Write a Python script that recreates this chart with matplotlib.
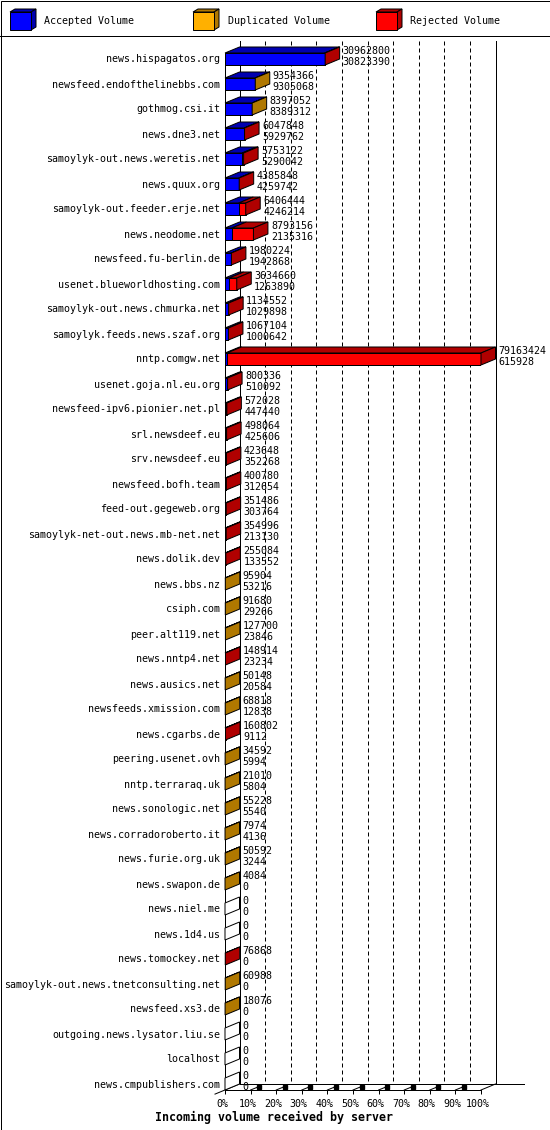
import matplotlib
matplotlib.use("Agg")
import matplotlib.pyplot as plt
from matplotlib.patches import Polygon, Rectangle
from matplotlib.transforms import ScaledTranslation

# ---------------- data ----------------
servers = [
    "news.hispagatos.org", "newsfeed.endofthelinebbs.com", "gothmog.csi.it",
    "news.dne3.net", "samoylyk-out.news.weretis.net", "news.quux.org",
    "samoylyk-out.feeder.erje.net", "news.neodome.net", "newsfeed.fu-berlin.de",
    "usenet.blueworldhosting.com", "samoylyk-out.news.chmurka.net",
    "samoylyk.feeds.news.szaf.org", "nntp.comgw.net", "usenet.goja.nl.eu.org",
    "newsfeed-ipv6.pionier.net.pl", "srl.newsdeef.eu", "srv.newsdeef.eu",
    "newsfeed.bofh.team", "feed-out.gegeweb.org", "samoylyk-net-out.news.mb-net.net",
    "news.dolik.dev", "news.bbs.nz", "csiph.com", "peer.alt119.net",
    "news.nntp4.net", "news.ausics.net", "newsfeeds.xmission.com", "news.cgarbs.de",
    "peering.usenet.ovh", "nntp.terraraq.uk", "news.sonologic.net",
    "news.corradoroberto.it", "news.furie.org.uk", "news.swapon.de", "news.niel.me",
    "news.1d4.us", "news.tomockey.net", "samoylyk-out.news.tnetconsulting.net",
    "newsfeed.xs3.de", "outgoing.news.lysator.liu.se", "localhost",
    "news.cmpublishers.com",
]
total = [
    30962800, 9354366, 8397052, 6047848, 5753122, 4385848, 6406444, 8793156,
    1980224, 3634660, 1134552, 1067104, 79163424, 800336, 572028, 498064,
    423648, 400780, 351486, 354996, 255084, 95904, 91680, 127700, 148914,
    50148, 68818, 160802, 34592, 21010, 55228, 7974, 50592, 4084, 0, 0,
    76868, 60988, 18076, 0, 0, 0,
]
accepted = [
    30823390, 9305068, 8389312, 5929762, 5290042, 4259742, 4246214, 2135316,
    1942868, 1263890, 1029898, 1000642, 615928, 510092, 447440, 425606,
    352268, 312654, 303764, 213130, 133552, 53216, 29266, 23846, 23234,
    20584, 12838, 9112, 5994, 5804, 5540, 4136, 3244, 0, 0, 0,
    0, 0, 0, 0, 0, 0,
]
duplicated = [
    0, 49298, 7740, 0, 0, 0, 0, 0,
    0, 0, 0, 0, 0, 0, 0, 0,
    0, 0, 0, 0, 0, 42688, 62414, 103854, 0,
    29564, 55980, 0, 28598, 15206, 49688, 3838, 47348, 4084, 0, 0,
    0, 60988, 18076, 0, 0, 0,
]
rejected = [
    139410, 0, 0, 118086, 463080, 126106, 2160230, 6657840,
    37356, 2370770, 104654, 66462, 78547496, 290244, 124588, 72458,
    71380, 88126, 47722, 141866, 121532, 0, 0, 0, 125680,
    0, 0, 151690, 0, 0, 0, 0, 0, 0, 0, 0,
    76868, 0, 0, 0, 0, 0,
]
legend_labels = ["Accepted Volume", "Duplicated Volume", "Rejected Volume"]
xticks = list(range(0, 101, 10))
xtick_labels = [f"{t}%" for t in xticks]
xtitle = "Incoming volume received by server"

# ---------------- style ----------------
FRONT = ["#0000FF", "#FFB000", "#FF0000"]
DARK = ["#0000B0", "#B07800", "#B00000"]
W, H, DPI = 550, 1130, 100
LW = 72.0 / DPI          # 1 pixel in points
FS = 7.2                 # ~6 px per monospace char
plt.rcParams["font.family"] = ["DejaVu Sans Mono", "DejaVu Sans"]

fig = plt.figure(figsize=(W / DPI, H / DPI), dpi=DPI)
fig.patch.set_facecolor("white")

# background / decoration axes in pixel coordinates
bg = fig.add_axes([0, 0, 1, 1], zorder=0)
bg.set_xlim(0, W)
bg.set_ylim(H, 0)
bg.axis("off")
bg.add_patch(Rectangle((0.5, 0.5), W - 1, H - 1, fill=False, ec="black", lw=LW))
bg.plot([0, W], [35.5, 35.5], color="black", lw=LW)

# legend keys
leg_x = [10, 193, 376]
for k, lab in enumerate(legend_labels):
    x0 = leg_x[k]
    x1 = x0 + 21
    y0, y1 = 12, 30
    d, e = 5, 3
    bg.add_patch(Polygon([(x0, y0), (x1, y0), (x1 + d, y0 - e), (x0 + d, y0 - e)],
                         closed=True, fc=DARK[k], ec="black", lw=LW))
    bg.add_patch(Polygon([(x1, y0), (x1, y1), (x1 + d, y1 - e), (x1 + d, y0 - e)],
                         closed=True, fc=DARK[k], ec="black", lw=LW))
    bg.add_patch(Rectangle((x0, y0), x1 - x0, y1 - y0, fc=FRONT[k], ec="black", lw=LW))
    bg.text(x1 + 13.5, 21, lab, fontsize=FS, va="center", ha="left")

bg.text(155, 1117, xtitle, fontsize=8.4, fontweight="bold", va="center", ha="left")

# ---------------- main axes ----------------
ROW_PX = 25.0
PCT_PX = 2.56
r_top = (41 - 59) / ROW_PX
r_bot = (1090 - 59) / ROW_PX
ax = fig.add_axes([225 / W, (H - 1090) / H, 256 / W, 1049 / H], zorder=1)
ax.patch.set_alpha(0)
ax.set_xlim(0, 100)
ax.set_ylim(r_bot, r_top)
for s in ["left", "right", "top"]:
    ax.spines[s].set_visible(False)
ax.spines["bottom"].set_linewidth(LW)
ax.set_yticks([])
ax.set_xticks(xticks)
ax.set_xticklabels(xtick_labels)
ax.tick_params(axis="x", direction="out", length=4 * LW, width=LW, pad=3.5,
               labelsize=FS)
shift = ScaledTranslation(-3 / DPI, 0, fig.dpi_scale_trans)
for lbl in ax.get_xticklabels():
    lbl.set_transform(lbl.get_transform() + shift)

DX_PX, DY_PX = 14.5, 6.0
DX = DX_PX / PCT_PX
DY = -DY_PX / ROW_PX
BH = 12.0 / ROW_PX
back_bot = r_bot + DY

# back wall
ax.plot([DX, DX], [r_top, back_bot], color="black", lw=LW, clip_on=False, zorder=1)
ax.plot([100 + DX, 100 + DX], [r_top, back_bot], color="black", lw=LW,
        clip_on=False, zorder=1)
for t in xticks[1:-1]:
    ax.plot([t + DX, t + DX], [r_top, back_bot], color="black", lw=LW,
            linestyle=(0, (4, 3)), clip_on=False, zorder=1)
# floor
ax.plot([DX, 100 + DX + 28 / PCT_PX], [back_bot, back_bot], color="black", lw=LW,
        clip_on=False, zorder=1)
ax.plot([100, 100 + DX], [r_bot, back_bot], color="black", lw=LW, clip_on=False, zorder=1)
ax.plot([-10 / PCT_PX, DX], [r_bot + 4.1 / ROW_PX, back_bot], color="black", lw=LW,
        clip_on=False, zorder=1)
for t in xticks[1:-1]:
    ax.plot([t, t + 10 / PCT_PX], [r_bot, r_bot - 4.1 / ROW_PX], color="black",
            lw=LW, clip_on=False, zorder=2)
    ax.plot([t + 8.5 / PCT_PX], [r_bot - 3.4 / ROW_PX], marker="s", ms=2.2,
            color="black", clip_on=False, zorder=2)
# front-left edge
ax.plot([0, 0], [-BH / 2, r_bot], color="black", lw=LW, clip_on=False, zorder=2)

# ---------------- bars ----------------
vmax = max(total)
rows = list(range(len(servers)))
series = [accepted, duplicated, rejected]
pcts = [[v / vmax * 100 for v in s] for s in series]
lefts = [0.0] * len(rows)
for k in range(3):
    ax.barh(rows, pcts[k], left=lefts, height=BH, color=FRONT[k], edgecolor="black",
            linewidth=LW, zorder=3)
    for i in rows:
        w = pcts[k][i]
        if w > 0:
            x0, x1 = lefts[i], lefts[i] + w
            top = i - BH / 2
            ax.add_patch(Polygon([(x0, top), (x1, top), (x1 + DX, top + DY),
                                  (x0 + DX, top + DY)], closed=True, fc=DARK[k],
                                 ec="black", lw=LW, zorder=3, clip_on=False))
    lefts = [lefts[i] + pcts[k][i] for i in rows]

for i in rows:
    end = lefts[i]
    last = None
    for k in range(3):
        if series[k][i] > 0:
            last = k
    fc = DARK[last] if last is not None else "white"
    top, bot = i - BH / 2, i + BH / 2
    ax.add_patch(Polygon([(end, top), (end, bot), (end + DX, bot + DY),
                          (end + DX, top + DY)], closed=True, fc=fc, ec="black",
                         lw=LW, zorder=3, clip_on=False))
    ax.annotate(servers[i], (0, i), xytext=(-5, -0.5), textcoords="offset pixels",
                ha="right", va="center", fontsize=FS, annotation_clip=False, zorder=4)
    ax.annotate(f"{total[i]}", (end, i), xytext=(DX_PX + 3, 8),
                textcoords="offset pixels", ha="left", va="center", fontsize=FS,
                annotation_clip=False, zorder=4)
    ax.annotate(f"{accepted[i]}", (end, i), xytext=(DX_PX + 3, -3),
                textcoords="offset pixels", ha="left", va="center", fontsize=FS,
                annotation_clip=False, zorder=4)

fig.savefig("out.png", dpi=DPI)
